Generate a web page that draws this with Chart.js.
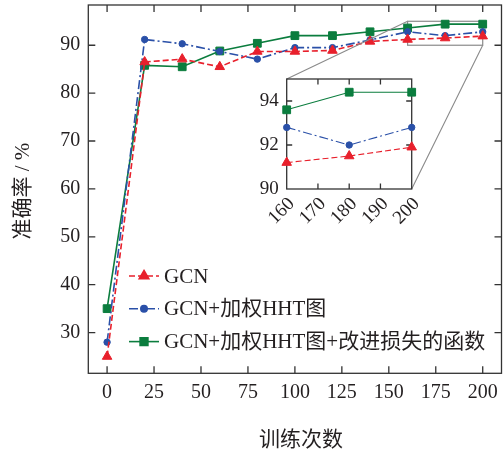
<!DOCTYPE html>
<html>
<head>
<meta charset="utf-8">
<script src="https://cdn.jsdelivr.net/npm/chart.js@4/dist/chart.umd.min.js"></script>
<style>
  html, body { margin: 0; padding: 0; background: #fff; }
  #wrap { position: relative; width: 503px; height: 452px; }
  #wrap canvas { position: absolute; }
</style>
</head>
<body>
<div id="wrap">
  <canvas id="main" width="503" height="452" style="left:0;top:0"></canvas>
  <canvas id="inset" width="267" height="250" style="left:236px;top:0"></canvas>
</div>
<script>
// Training epochs and accuracy (%) of the three models
const epochs      = [0, 20, 40, 60, 80, 100, 120, 140, 160, 180, 200];
const accGCN      = [25.0, 86.5, 87.1, 85.5, 88.7, 88.7, 88.9, 90.8, 91.2, 91.5, 91.9];
const accHHT      = [28.0, 91.2, 90.3, 88.7, 87.1, 89.5, 89.5, 91.1, 92.8, 92.0, 92.8];
const accHHTLoss  = [35.0, 85.8, 85.5, 88.8, 90.4, 92.0, 92.0, 92.8, 93.6, 94.4, 94.4];
const seriesNames = ['GCN', 'GCN+加权HHT图', 'GCN+加权HHT图+改进损失的函数'];
const xTitle = '训练次数';
const yTitle = '准确率 / %';

// Tick labels
const xTicks      = [0, 25, 50, 75, 100, 125, 150, 175, 200];
const yTicks      = [30, 40, 50, 60, 70, 80, 90];
const insetXTicks = [160, 170, 180, 190, 200];
const insetYTicks = [90, 92, 94];

// Magnified window (epochs, accuracy)
const zoomX = [160, 200];
const zoomY = [90, 95];

const SERIF = '"Liberation Serif", "Noto Sans CJK SC", serif';
const TEXT = '#231f20';
const FRAME = '#333333';
const ZOOM_GREY = '#8a8a8a';

const styles = [
  { color: '#e8202c', dash: [6, 3],       point: 'triangle', radius: 5.5 },
  { color: '#2a50a8', dash: [9, 3, 2, 3], point: 'circle',   radius: 3.2 },
  { color: '#0b7d3e', dash: [],           point: 'rect',     radius: 5.5 }
];

function makeDatasets(from, lineWidth) {
  return [accGCN, accHHT, accHHTLoss].map((vals, i) => ({
    label: seriesNames[i],
    data: epochs.map((e, k) => ({ x: e, y: vals[k] })).filter(p => p.x >= from),
    borderColor: styles[i].color,
    backgroundColor: styles[i].color,
    borderDash: styles[i].dash,
    borderWidth: lineWidth,
    pointStyle: styles[i].point,
    pointRadius: styles[i].radius,
    pointBorderWidth: 1,
    tension: 0,
    clip: false
  }));
}

// Fixed axis box size, with no extra room reserved for label overhang
function fixBox(size) {
  return s => {
    if (s.isHorizontal()) s.height = size; else s.width = size;
    s.paddingTop = s.paddingBottom = s.paddingLeft = s.paddingRight = 0;
  };
}

// Box frame with inward ticks on all four sides
const framePlugin = {
  id: 'frame',
  beforeDatasetsDraw(chart, args, opts) {
    const { ctx, chartArea: a, scales } = chart;
    ctx.save();
    ctx.strokeStyle = FRAME;
    ctx.lineWidth = opts.lineWidth;
    ctx.strokeRect(a.left, a.top, a.right - a.left, a.bottom - a.top);
    ctx.beginPath();
    scales.x.ticks.forEach(t => {
      const px = scales.x.getPixelForValue(t.value);
      if (px <= a.left + 1 || px >= a.right - 1) return;
      ctx.moveTo(px, a.bottom); ctx.lineTo(px, a.bottom - opts.tickLen);
      ctx.moveTo(px, a.top);    ctx.lineTo(px, a.top + opts.tickLen);
    });
    scales.y.ticks.forEach(t => {
      const py = scales.y.getPixelForValue(t.value);
      if (py <= a.top + 1 || py >= a.bottom - 1) return;
      ctx.moveTo(a.left, py);  ctx.lineTo(a.left + opts.tickLen, py);
      ctx.moveTo(a.right, py); ctx.lineTo(a.right - opts.tickLen, py);
    });
    ctx.stroke();
    ctx.restore();
  }
};

// Axis titles, centred on the plot area
const axisTitlePlugin = {
  id: 'axisTitles',
  afterDraw(chart, args, opts) {
    const { ctx, chartArea: a } = chart;
    ctx.save();
    ctx.fillStyle = TEXT;
    ctx.font = opts.font;
    ctx.textAlign = 'center';
    ctx.textBaseline = 'middle';
    ctx.fillText(xTitle, (a.left + a.right) / 2 + opts.xShift, opts.xTitleY);
    ctx.translate(opts.yTitleX, (a.top + a.bottom) / 2 + opts.yShift);
    ctx.rotate(-Math.PI / 2);
    ctx.fillText(yTitle, 0, 0);
    ctx.restore();
  }
};

// Grey rectangle marking the magnified window
const zoomBoxPlugin = {
  id: 'zoomBox',
  beforeDatasetsDraw(chart) {
    const { ctx, scales: { x, y } } = chart;
    ctx.save();
    ctx.strokeStyle = ZOOM_GREY;
    ctx.lineWidth = 1.2;
    const x0 = x.getPixelForValue(zoomX[0]), x1 = x.getPixelForValue(zoomX[1]);
    const y0 = y.getPixelForValue(zoomY[1]), y1 = y.getPixelForValue(zoomY[0]);
    ctx.strokeRect(x0, y0, x1 - x0, y1 - y0);
    ctx.restore();
  }
};

// Legend: line sample with marker, then the series name
const lineLegendPlugin = {
  id: 'lineLegend',
  afterDraw(chart, args, opts) {
    const { ctx } = chart;
    chart.data.datasets.forEach((ds, i) => {
      const y = opts.top + i * opts.rowGap;
      const x0 = opts.left;
      ctx.save();
      ctx.strokeStyle = ds.borderColor;
      ctx.lineWidth = ds.borderWidth;
      ctx.setLineDash(ds.borderDash);
      ctx.beginPath();
      ctx.moveTo(x0, y);
      ctx.lineTo(x0 + opts.lineLen, y);
      ctx.stroke();
      ctx.setLineDash([]);
      ctx.fillStyle = ds.backgroundColor;
      Chart.helpers.drawPoint(ctx, {
        pointStyle: ds.pointStyle, radius: ds.pointRadius, borderWidth: 1, rotation: 0
      }, x0 + opts.lineLen / 2, y);
      ctx.fillStyle = TEXT;
      ctx.font = opts.font;
      ctx.textBaseline = 'middle';
      ctx.textAlign = 'left';
      ctx.fillText(ds.label, x0 + opts.lineLen + opts.gap, y + 1);
      ctx.restore();
    });
  }
};

const mainChart = new Chart(document.getElementById('main'), {
  type: 'line',
  data: { datasets: makeDatasets(-Infinity, 1.6) },
  plugins: [zoomBoxPlugin, framePlugin, lineLegendPlugin, axisTitlePlugin],
  options: {
    responsive: false,
    animation: false,
    devicePixelRatio: 1,
    layout: { autoPadding: false, padding: { top: 5, right: 1.5, left: 0, bottom: 0 } },
    plugins: {
      legend: { display: false },
      tooltip: { enabled: false },
      frame: { lineWidth: 1.3, tickLen: 7 },
      lineLegend: { left: 129, top: 276, rowGap: 32.8, lineLen: 30, gap: 5, font: '21px ' + SERIF },
      axisTitles: { font: '21px ' + SERIF, xShift: 6, xTitleY: 440, yTitleX: 23, yShift: 2 }
    },
    scales: {
      x: {
        type: 'linear',
        min: -10, max: 210,
        grid: { display: false, drawTicks: false },
        border: { display: false },
        afterBuildTicks: s => { s.ticks = xTicks.map(v => ({ value: v })); },
        afterFit: fixBox(78.7),
        ticks: { autoSkip: false, maxRotation: 0, padding: 7, color: TEXT, font: { family: SERIF, size: 20 } }
      },
      y: {
        type: 'linear',
        min: 21.5, max: 98.4,
        grid: { display: false, drawTicks: false },
        border: { display: false },
        afterBuildTicks: s => { s.ticks = yTicks.map(v => ({ value: v })); },
        afterFit: fixBox(88.3),
        ticks: { padding: 8, color: TEXT, font: { family: SERIF, size: 20 } }
      }
    }
  }
});

// Inset: white panel plus connector lines back to the magnified window
const insetBackPlugin = {
  id: 'insetBack',
  beforeDraw(chart) {
    const { ctx, chartArea: a } = chart;
    const off = chart.canvas.offsetLeft, offTop = chart.canvas.offsetTop;
    const mx = mainChart.scales.x, my = mainChart.scales.y;
    ctx.save();
    ctx.fillStyle = '#fff';
    ctx.fillRect(a.left, a.top, a.right - a.left, a.bottom - a.top);
    ctx.strokeStyle = ZOOM_GREY;
    ctx.lineWidth = 1.1;
    ctx.beginPath();
    ctx.moveTo(mx.getPixelForValue(zoomX[0]) - off, my.getPixelForValue(zoomY[1]) - offTop);
    ctx.lineTo(a.left, a.top);
    ctx.moveTo(mx.getPixelForValue(zoomX[1]) - off, my.getPixelForValue(zoomY[0]) - offTop);
    ctx.lineTo(a.right, a.bottom);
    ctx.stroke();
    ctx.restore();
  }
};

new Chart(document.getElementById('inset'), {
  type: 'line',
  data: { datasets: makeDatasets(zoomX[0], 1.1) },
  plugins: [insetBackPlugin, framePlugin],
  options: {
    responsive: false,
    animation: false,
    devicePixelRatio: 1,
    layout: { autoPadding: false, padding: { top: 79, right: 91.3, left: 0, bottom: 11 } },
    plugins: {
      legend: { display: false },
      tooltip: { enabled: false },
      frame: { lineWidth: 1.3, tickLen: 5.5 }
    },
    scales: {
      x: {
        type: 'linear',
        min: zoomX[0], max: zoomX[1],
        grid: { display: false, drawTicks: false },
        border: { display: false },
        afterBuildTicks: s => { s.ticks = insetXTicks.map(v => ({ value: v })); },
        afterFit: fixBox(50),
        ticks: { autoSkip: false, minRotation: 45, maxRotation: 45, padding: 4, labelOffset: 5, color: TEXT, font: { family: SERIF, size: 19 } },
      },
      y: {
        type: 'linear',
        min: zoomY[0], max: zoomY[1],
        grid: { display: false, drawTicks: false },
        border: { display: false },
        afterBuildTicks: s => { s.ticks = insetYTicks.map(v => ({ value: v })); },
        afterFit: fixBox(50.7),
        ticks: { padding: 8, color: TEXT, font: { family: SERIF, size: 19 } }
      }
    }
  }
});
</script>
</body>
</html>
